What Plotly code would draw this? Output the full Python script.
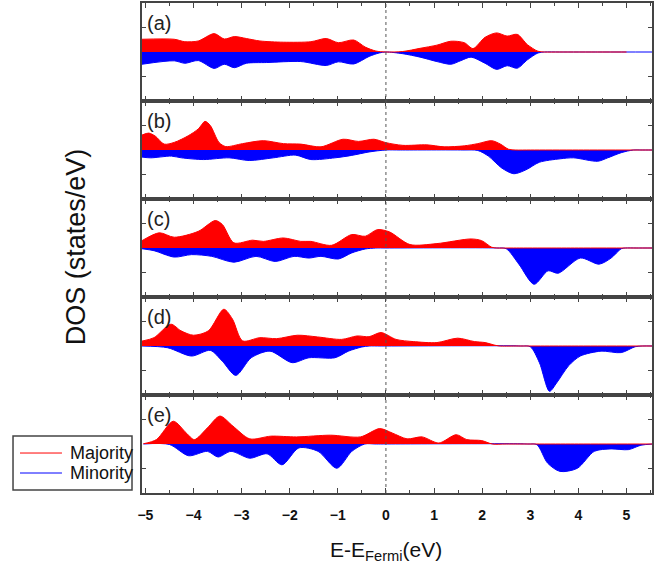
import plotly.graph_objects as go
from plotly.subplots import make_subplots

# ---------------- data (E - E_Fermi in eV, DOS in states/eV) ----------------
panel_labels = ["(a)", "(b)", "(c)", "(d)", "(e)"]
legend_names = ["Majority", "Minority"]
x_ticks = [-5, -4, -3, -2, -1, 0, 1, 2, 3, 4, 5]

a_maj_x = [-5.07, -4.4, -4.18, -3.9, -3.57, -3.36, -3.15, -2.9, -2.62, -2.13, -1.56, -1.24, -0.99, -0.67, -0.43, -0.21, 0.0,
           0.35, 0.71, 1.06, 1.35, 1.63, 1.81, 2.06, 2.3, 2.52, 2.73, 2.94, 3.16, 3.3, 3.6, 4.0, 5.0]
a_maj_y = [0.52, 0.52, 0.42, 0.45, 0.75, 0.53, 0.63, 0.55, 0.45, 0.40, 0.42, 0.55, 0.38, 0.49, 0.20, 0.04, 0.0,
           0.02, 0.15, 0.28, 0.44, 0.38, 0.14, 0.60, 0.78, 0.65, 0.72, 0.30, 0.03, 0.0, 0.0, 0.0, 0.0]
a_min_x = [-5.07, -4.4, -4.18, -3.9, -3.57, -3.36, -3.15, -2.9, -2.48, -1.77, -1.24, -0.99, -0.67, -0.35, -0.14, 0.0,
           0.35, 0.71, 1.06, 1.35, 1.56, 1.77, 2.06, 2.3, 2.52, 2.73, 2.94, 3.16, 3.3, 3.6, 4.5, 5.55]
a_min_y = [-0.50, -0.36, -0.46, -0.35, -0.67, -0.50, -0.64, -0.46, -0.43, -0.39, -0.55, -0.40, -0.49, -0.18, -0.04, 0.0,
           -0.07, -0.21, -0.39, -0.50, -0.35, -0.21, -0.46, -0.71, -0.56, -0.66, -0.32, -0.04, 0.0, 0.0, 0.0, 0.0]

b_maj_x = [-5.07, -4.93, -4.79, -4.61, -4.4, -4.11, -3.9, -3.76, -3.65, -3.47, -3.33, -2.98, -2.55, -2.13, -1.77, -1.35,
           -0.89, -0.57, -0.25, 0.0, 0.35, 0.85, 1.21, 1.63, 1.91, 2.2, 2.38, 2.55, 2.7, 3.0, 4.0, 5.55]
b_maj_y = [0.61, 0.69, 0.56, 0.24, 0.31, 0.58, 0.86, 1.17, 1.0, 0.31, 0.14, 0.26, 0.38, 0.26, 0.24, 0.13,
           0.44, 0.35, 0.44, 0.30, 0.19, 0.21, 0.13, 0.17, 0.26, 0.38, 0.24, 0.03, 0.0, 0.0, 0.0, 0.0]
b_min_x = [-5.07, -4.89, -4.46, -4.25, -3.79, -3.26, -2.84, -2.34, -1.88, -1.56, -1.06, -0.71, -0.35, 0.0, 0.3,
           1.6, 1.91, 2.13, 2.41, 2.66, 2.91, 3.19, 3.62, 3.9, 4.4, 4.61, 4.89, 5.14, 5.3, 5.55]
b_min_y = [-0.29, -0.32, -0.25, -0.32, -0.39, -0.32, -0.43, -0.32, -0.21, -0.39, -0.32, -0.22, -0.08, 0.0, 0.0,
           0.0, -0.02, -0.25, -0.74, -0.97, -0.81, -0.50, -0.36, -0.32, -0.46, -0.32, -0.11, 0.0, 0.0, 0.0]

c_maj_x = [-5.07, -4.71, -4.4, -3.9, -3.55, -3.4, -3.16, -2.77, -2.55, -2.13, -1.77, -1.56, -1.13, -0.71, -0.43, -0.18,
           0.07, 0.5, 1.06, 1.77, 1.99, 2.2, 2.31, 2.6, 4.0, 5.55]
c_maj_y = [0.30, 0.62, 0.44, 0.68, 1.12, 0.96, 0.21, 0.32, 0.27, 0.41, 0.27, 0.27, 0.11, 0.55, 0.48, 0.75,
           0.66, 0.14, 0.18, 0.37, 0.30, 0.03, 0.0, 0.0, 0.0, 0.0]
c_min_x = [-5.07, -4.82, -4.4, -4.04, -3.62, -3.16, -2.7, -2.3, -1.91, -1.6, -1.35, -0.99, -0.71, -0.43, -0.21, 0.0,
           2.3, 2.5, 2.77, 3.08, 3.37, 3.58, 4.04, 4.43, 4.68, 4.89, 4.98, 5.2, 5.55]
c_min_y = [-0.03, -0.11, -0.37, -0.27, -0.34, -0.58, -0.34, -0.55, -0.34, -0.41, -0.34, -0.45, -0.20, -0.04, 0.0, 0.0,
           0.0, -0.03, -0.68, -1.48, -0.93, -1.03, -0.41, -0.66, -0.41, -0.03, 0.0, 0.0, 0.0]

d_maj_x = [-5.07, -4.82, -4.47, -4.26, -4.0, -3.69, -3.37, -3.19, -2.98, -2.62, -2.27, -1.84, -1.42, -0.92, -0.6, -0.35,
           -0.1, 0.21, 0.57, 1.06, 1.49, 1.84, 2.06, 2.27, 2.36, 2.7, 4.0, 5.55]
d_maj_y = [0.20, 0.34, 0.89, 0.62, 0.44, 0.62, 1.50, 1.10, 0.21, 0.34, 0.30, 0.44, 0.37, 0.27, 0.41, 0.38,
           0.55, 0.27, 0.18, 0.14, 0.32, 0.18, 0.14, 0.03, 0.0, 0.0, 0.0, 0.0]
d_min_x = [-5.07, -4.54, -4.04, -3.65, -3.4, -3.12, -2.8, -2.41, -1.95, -1.6, -1.06, -0.78, -0.5, -0.35, -0.1,
           2.8, 3.0, 3.19, 3.4, 3.55, 3.8, 4.04, 4.47, 4.89, 5.18, 5.33, 5.55]
d_min_y = [0.0, -0.07, -0.41, -0.18, -0.62, -1.20, -0.48, -0.21, -0.68, -0.48, -0.48, -0.21, -0.04, 0.0, 0.0,
           0.0, -0.03, -0.68, -1.85, -1.50, -0.80, -0.41, -0.21, -0.27, -0.03, 0.0, 0.0]

e_maj_x = [-5.04, -4.77, -4.42, -4.15, -3.98, -3.71, -3.45, -3.18, -2.83, -2.39, -1.86, -1.15, -0.53, -0.13, 0.13,
           0.44, 0.75, 1.1, 1.46, 1.68, 1.99, 2.21, 2.5, 4.0, 5.55]
e_maj_y = [0.01, 0.18, 0.93, 0.45, 0.18, 0.66, 1.14, 0.73, 0.21, 0.32, 0.29, 0.36, 0.29, 0.63, 0.45,
           0.21, 0.29, 0.04, 0.38, 0.18, 0.14, 0.0, 0.0, 0.0, 0.0]
e_min_x = [-5.04, -4.5, -4.1, -3.71, -3.49, -3.22, -2.83, -2.47, -2.16, -1.81, -1.41, -1.02, -0.71, -0.44, -0.2,
           2.95, 3.14, 3.36, 3.62, 3.98, 4.33, 4.68, 5.04, 5.3, 5.55]
e_min_y = [0.0, -0.02, -0.48, -0.30, -0.53, -0.30, -0.58, -0.40, -0.85, -0.16, -0.30, -0.99, -0.30, 0.0, 0.0,
           0.0, -0.03, -0.78, -1.12, -0.99, -0.30, -0.20, -0.23, -0.05, 0.0]

majority = [(a_maj_x, a_maj_y), (b_maj_x, b_maj_y), (c_maj_x, c_maj_y), (d_maj_x, d_maj_y), (e_maj_x, e_maj_y)]
minority = [(a_min_x, a_min_y), (b_min_x, b_min_y), (c_min_x, c_min_y), (d_min_x, d_min_y), (e_min_x, e_min_y)]

RED = "#ff0000"
BLUE = "#0000ff"
FONT = "Liberation Sans, Arial, sans-serif"
AX = "#444444"

fig = make_subplots(rows=5, cols=1, shared_xaxes=True, vertical_spacing=0)

for i in range(5):
    r = i + 1
    mx, my = minority[i]
    fig.add_trace(go.Scatter(x=mx, y=my, mode="lines", name=legend_names[1],
                             line=dict(color=BLUE, width=1, shape="spline", smoothing=0.8),
                             fill="tozeroy", fillcolor=BLUE, showlegend=False, hoverinfo="skip"), row=r, col=1)
    Mx, My = majority[i]
    fig.add_trace(go.Scatter(x=Mx, y=My, mode="lines", name=legend_names[0],
                             line=dict(color=RED, width=1, shape="spline", smoothing=0.8),
                             fill="tozeroy", fillcolor=RED, showlegend=False, hoverinfo="skip"), row=r, col=1)
    fig.update_yaxes(range=[-2, 2], tickvals=[-1, 1], showticklabels=False, ticks="inside", ticklen=4,
                     tickcolor=AX, showline=True, linecolor=AX, linewidth=1.5, mirror="ticks",
                     showgrid=False, zeroline=False, row=r, col=1)
    fig.update_xaxes(range=[-5.07, 5.53], tickvals=x_ticks, ticks="inside", ticklen=5, tickcolor=AX,
                     minor=dict(dtick=0.5, ticks="inside", ticklen=3, tickcolor=AX),
                     showline=True, linecolor=AX, linewidth=1.5, mirror="ticks",
                     showgrid=False, zeroline=False, row=r, col=1)
    fig.add_annotation(text=panel_labels[i], xref=f"x{'' if r == 1 else r} domain", yref=f"y{'' if r == 1 else r} domain",
                       x=0.006, y=0.80, xanchor="left", yanchor="middle", showarrow=False,
                       font=dict(family=FONT, size=20, color="#222"))

fig.update_xaxes(tickfont=dict(family=FONT, size=14, color="#111", weight="bold"), ticklabelstandoff=8, row=5, col=1)

# Fermi level
fig.add_shape(type="line", xref="x", yref="paper", x0=0, x1=0, y0=0, y1=1,
              line=dict(color="#555", width=1, dash="dot"), layer="above")

# legend box (drawn manually, in paper coordinates)
fig.add_shape(type="rect", xref="paper", yref="paper", x0=-0.2529, x1=-0.0196, y0=0.0061, y1=0.1163,
              line=dict(color=AX, width=1.5), fillcolor="white", layer="above")
for name, col, yy in [(legend_names[0], RED, 0.0816), (legend_names[1], BLUE, 0.0408)]:
    fig.add_shape(type="line", xref="paper", yref="paper", x0=-0.2392, x1=-0.1569, y0=yy, y1=yy,
                  line=dict(color=col, width=1), layer="above")
    fig.add_annotation(text=name, xref="paper", yref="paper", x=-0.1451, y=yy, xanchor="left", yanchor="middle",
                       showarrow=False, font=dict(family=FONT, size=18, color="#111"))

fig.add_annotation(text="DOS (states/eV)", xref="paper", yref="paper", x=-0.129, y=0.502, textangle=-90,
                   xanchor="center", yanchor="middle",
                   showarrow=False, font=dict(family=FONT, size=27, color="#111"))
fig.add_annotation(text="E-E<sub>Fermi</sub>(eV)", xref="paper", yref="paper", x=0.478, y=-0.118,
                   xanchor="center", yanchor="middle",
                   showarrow=False, font=dict(family=FONT, size=21, color="#111"))

fig.update_layout(
    width=664, height=574,
    margin=dict(l=142, r=12, t=3, b=81, autoexpand=False),
    paper_bgcolor="white", plot_bgcolor="white",
    showlegend=False,
)

fig.write_html("out.html", config={"displayModeBar": False},
               post_script="document.body.style.margin='0px';")
